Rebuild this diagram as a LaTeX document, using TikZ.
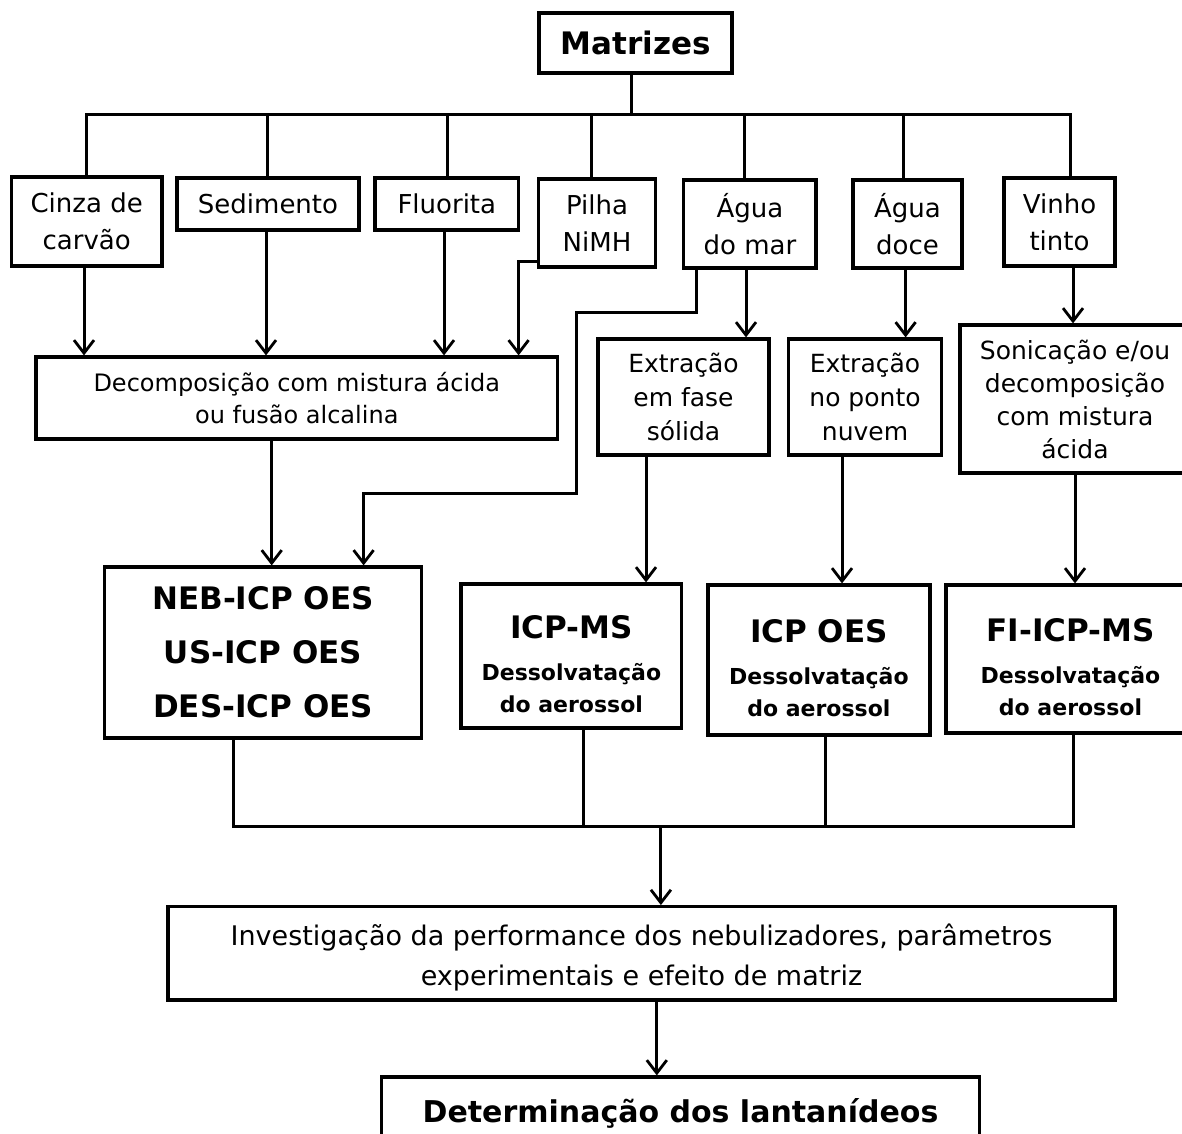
\documentclass[tikz,border=0pt]{standalone}
\usepackage{fontspec}
\setmainfont{DejaVu Sans}
\usetikzlibrary{arrows.meta}
\tikzset{
  box/.style={draw, line width=3.2pt, inner sep=0pt, align=center},
  ln/.style={line width=3pt},
  arr/.style={line width=3pt, -{Straight Barb[length=13pt,width=20pt,line width=2.8pt]}},
  toprow/.style={font=\fontsize{26}{37}\selectfont},
  midtxt/.style={font=\fontsize{25}{34}\selectfont},
  instr/.style={font=\fontsize{22}{32}\selectfont\bfseries},
}
\newcommand{\instrtitle}[1]{{\fontsize{31}{31}\selectfont\rule{0pt}{40pt}#1}}
\begin{document}
\begin{tikzpicture}[x=1pt,y=-1pt]
\useasboundingbox (0,0) rectangle (1182,1133);
% title
\node[box, minimum width=193pt, minimum height=60pt, font=\fontsize{31}{36}\selectfont\bfseries] (mat) at (635.5,43) {Matrizes};
% top row
\node[box, toprow, minimum width=150.5pt, minimum height=89pt] (cinza) at (86.7,221.5) {Cinza de\\carvão};
\node[box, toprow, minimum width=182pt, minimum height=52pt] (sed) at (268,204) {Sedimento};
\node[box, toprow, minimum width=143.6pt, minimum height=52pt] (flu) at (446.8,204) {Fluorita};
\node[box, toprow, minimum width=117pt, minimum height=88pt] (pil) at (597,223) {Pilha\\NiMH};
\node[box, toprow, minimum width=132.3pt, minimum height=88pt] (amar) at (749.9,224) {Água\\do mar};
\node[box, toprow, minimum width=109pt, minimum height=88pt] (adoce) at (907.5,224) {Água\\doce};
\node[box, toprow, minimum width=111pt, minimum height=88pt] (vinho) at (1059.5,222) {Vinho\\tinto};
% preparation
\node[box, minimum width=521.6pt, minimum height=82pt, font=\fontsize{24}{32}\selectfont] (decomp) at (296.8,398) {Decomposição com mistura ácida\\ou fusão alcalina};
\node[box, midtxt, minimum width=171pt, minimum height=116pt] (efs) at (683.5,397) {Extração\\em fase\\sólida};
\node[box, midtxt, minimum width=153pt, minimum height=116pt] (epn) at (865,397) {Extração\\no ponto\\nuvem};
\node[box, minimum width=230pt, minimum height=148pt, font=\fontsize{25}{33}\selectfont] (son) at (1075,399) {Sonicação e/ou\\decomposição\\com mistura\\ácida};
% instruments
\node[box, minimum width=317.5pt, minimum height=171pt, font=\fontsize{31}{54}\selectfont\bfseries] (neb) at (263,652.5) {NEB-ICP OES\\US-ICP OES\\DES-ICP OES};
\node[box, instr, minimum width=220.7pt, minimum height=144pt] (icpms) at (571.4,656) {\instrtitle{ICP-MS}\\[10pt]Dessolvatação\\do aerossol};
\node[box, instr, minimum width=222pt, minimum height=150pt] (icpoes) at (818.9,660) {\instrtitle{ICP OES}\\[10pt]Dessolvatação\\do aerossol};
\node[box, instr, minimum width=249pt, minimum height=148pt] (fi) at (1070.5,659) {\instrtitle{FI-ICP-MS}\\[10pt]Dessolvatação\\do aerossol};
% bottom
\node[box, minimum width=947pt, minimum height=93.3pt, font=\fontsize{27}{40}\selectfont] (inv) at (641.5,953.3) {\rule{0pt}{30pt}Investigação da performance dos nebulizadores, parâmetros\\experimentais e efeito de matriz};
\node[box, minimum width=597.6pt, minimum height=73pt, font=\fontsize{30}{36}\selectfont\bfseries] (det) at (680.5,1113.5) {Determinação dos lantanídeos};
% top bus
\coordinate (t0) at (631,114);
\coordinate (b1) at (86,114);
\coordinate (b2) at (267.5,114);
\coordinate (b3) at (447.8,114);
\coordinate (b4) at (591,114);
\coordinate (b5) at (744,114);
\coordinate (b6) at (903.6,114);
\coordinate (b7) at (1070,114);
\draw[ln] (t0 |- mat.south) -- (t0);
\draw[ln] (b1 |- cinza.north) -- (b1) -- (b7) -- (b7 |- vinho.north);
\draw[ln] (b2) -- (b2 |- sed.north);
\draw[ln] (b3) -- (b3 |- flu.north);
\draw[ln] (b4) -- (b4 |- pil.north);
\draw[ln] (b5) -- (b5 |- amar.north);
\draw[ln] (b6) -- (b6 |- adoce.north);
% to preparation
\draw[arr] (cinza.south -| 84,0) -- (decomp.north -| 84,0);
\draw[arr] (sed.south -| 266,0) -- (decomp.north -| 266,0);
\draw[arr] (flu.south -| 444,0) -- (decomp.north -| 444,0);
\coordinate (p1) at (518.6,261);
\draw[arr] (pil.west |- p1) -- (p1) -- (decomp.north -| p1);
\coordinate (m1) at (696,312);
\coordinate (m2) at (576,312);
\coordinate (m3) at (576,493);
\coordinate (m4) at (363.6,493);
\draw[arr] (amar.south -| m1) -- (m1) -- (m2) -- (m3) -- (m4) -- (neb.north -| m4);
\draw[arr] (amar.south -| 746,0) -- (efs.north -| 746,0);
\draw[arr] (adoce.south -| 905.6,0) -- (epn.north -| 905.6,0);
\draw[arr] (vinho.south -| 1073,0) -- (son.north -| 1073,0);
% to instruments
\draw[arr] (decomp.south -| 271.7,0) -- (neb.north -| 271.7,0);
\draw[arr] (efs.south -| 646,0) -- (icpms.north -| 646,0);
\draw[arr] (epn.south -| 842,0) -- (icpoes.north -| 842,0);
\draw[arr] (son.south -| 1075,0) -- (fi.north -| 1075,0);
% bottom bus
\coordinate (q1) at (233,826.7);
\coordinate (q2) at (583.6,826.7);
\coordinate (q3) at (825.7,826.7);
\coordinate (q4) at (1073,826.7);
\coordinate (q5) at (660.9,826.7);
\draw[ln] (neb.south -| q1) -- (q1) -- (q4) -- (fi.south -| q4);
\draw[ln] (icpms.south -| q2) -- (q2);
\draw[ln] (icpoes.south -| q3) -- (q3);
\draw[arr] (q5) -- (inv.north -| q5);
\draw[arr] (inv.south -| 656.8,0) -- (det.north -| 656.8,0);
\end{tikzpicture}
\end{document}
